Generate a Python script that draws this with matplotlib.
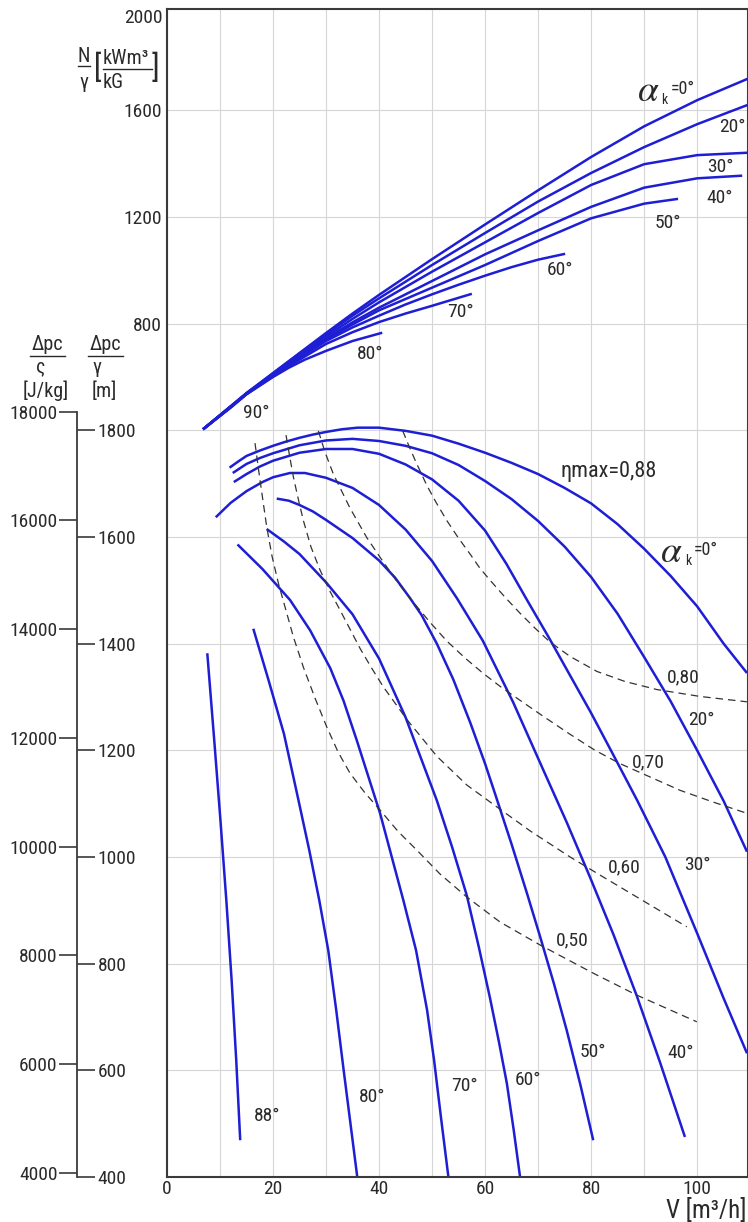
import matplotlib
matplotlib.use("Agg")
import matplotlib.pyplot as plt
from matplotlib.lines import Line2D

plt.rcParams["font.family"] = ["Liberation Sans Narrow", "Roboto Condensed",
                               "Liberation Sans", "DejaVu Sans"]

BLUE = "#1e1ed4"
INK = "#2a2a2a"
GRID = "#d6d6d6"
RHO_G = 9.81            # J/kg per metre of head

# ---------------------------------------------------------------------------
# Power curves N/gamma [kWm3/kG] (upper family), one per guide vane angle
# ---------------------------------------------------------------------------
n0_v = [6.8, 12, 15, 20, 25, 30, 35, 40, 50, 60, 70, 80, 90, 100, 109.5]
n0_n = [404, 490, 540, 615, 690, 765, 838, 908, 1042, 1172, 1300, 1425, 1540, 1638, 1718]
n20_v = [6.8, 12, 15, 20, 25, 30, 35, 40, 50, 60, 70, 80, 90, 100, 109.5]
n20_n = [404, 490, 539, 613, 688, 760, 830, 895, 1020, 1140, 1258, 1365, 1462, 1548, 1620]
n30_v = [6.8, 12, 15, 20, 25, 30, 35, 40, 50, 60, 70, 80, 90, 100, 109.5]
n30_n = [404, 489, 538, 610, 683, 752, 818, 880, 995, 1105, 1215, 1320, 1398, 1432, 1441]
n40_v = [6.8, 12, 15, 20, 25, 30, 35, 40, 50, 60, 70, 80, 90, 100, 108.5]
n40_n = [404, 488, 538, 608, 678, 745, 805, 860, 960, 1060, 1150, 1238, 1310, 1345, 1355]
n50_v = [6.8, 12, 15, 20, 25, 30, 35, 40, 50, 60, 70, 80, 90, 96.4]
n50_n = [404, 488, 537, 606, 675, 740, 797, 850, 935, 1020, 1110, 1195, 1250, 1268]
n60_v = [6.8, 12, 15, 20, 25, 30, 35, 40, 45, 50, 55, 60, 65, 70, 75.1]
n60_n = [404, 487, 537, 605, 672, 735, 786, 830, 872, 910, 946, 980, 1012, 1040, 1062]
n70_v = [6.8, 12, 15, 20, 25, 30, 35, 40, 45, 50, 57.5]
n70_n = [404, 486, 536, 603, 665, 724, 768, 806, 838, 867, 912]
n80_v = [6.8, 12, 15, 20, 23, 26, 30, 35, 40.6]
n80_n = [404, 485, 535, 600, 635, 665, 698, 735, 766]

# ---------------------------------------------------------------------------
# Head curves dp/gamma [m] (lower family)
# ---------------------------------------------------------------------------
h0_v = [11.8, 13.5, 15, 17.5, 20, 22.5, 25, 27.5, 30, 33, 36, 40, 45, 50, 55, 60, 65, 70,
        75, 80, 85, 90, 95, 100, 105, 109.4]
h0_h = [1730, 1742, 1752, 1762, 1771, 1779, 1786, 1792, 1797, 1802, 1805, 1805, 1799, 1790,
        1775, 1758, 1739, 1718, 1692, 1663, 1624, 1578, 1527, 1470, 1400, 1345]
h20_v = [12.4, 15, 17.5, 20, 25, 30, 35, 40, 45, 50, 55, 60, 65, 70, 75, 80, 85, 90, 95,
         100, 105, 109.4]
h20_h = [1720, 1737, 1748, 1757, 1772, 1781, 1784, 1780, 1771, 1757, 1735, 1705, 1671, 1630,
         1582, 1525, 1456, 1375, 1292, 1200, 1105, 1010]
h30_v = [12.6, 15, 17.5, 20, 25, 30, 35, 40, 45, 50, 55, 60, 64, 67.9, 72, 76, 80, 84, 88.7,
         94, 100, 105, 109.4]
h30_h = [1703, 1718, 1732, 1743, 1758, 1765, 1765, 1756, 1736, 1708, 1668, 1612, 1550, 1482,
         1412, 1341, 1270, 1195, 1106, 1000, 857, 735, 632]
h40_v = [9.2, 12, 15, 18, 20, 23.2, 26, 30, 35, 40, 45, 50, 54.7, 59.6, 65.3, 70.9, 75.4,
         79.8, 84.2, 88.6, 93, 97.7]
h40_h = [1637, 1664, 1686, 1703, 1712, 1720, 1720, 1711, 1692, 1660, 1614, 1555, 1485, 1405,
         1290, 1165, 1065, 962, 855, 740, 615, 475]
h50_v = [20.7, 23, 25, 27.5, 30, 35, 40, 43, 45.8, 48, 50.9, 54, 57.2, 60, 62, 65, 67.9, 70.4,
         73, 75.4, 78, 80.4]
h50_h = [1672, 1668, 1660, 1648, 1632, 1598, 1556, 1524, 1486, 1454, 1400, 1333, 1252, 1175,
         1115, 1024, 932, 850, 762, 675, 572, 469]
h60_v = [18.8, 22, 25, 30, 35, 40, 45, 50.9, 53.8, 56.55, 58.8, 60.94, 62.6, 64.1, 65.4, 66.6]
h60_h = [1615, 1592, 1568, 1515, 1455, 1372, 1262, 1106, 1018, 928, 832, 735, 654, 576, 488, 400]
h70_v = [13.3, 18, 23.2, 27, 30.8, 33.3, 35.79, 40.19, 44.58, 46.98, 49.06, 50.38, 51.7, 53.08]
h70_h = [1586, 1540, 1482, 1425, 1354, 1293, 1219, 1082, 919, 825, 713, 619, 510, 400]
h80_v = [16.28, 19.17, 22.06, 24.81, 26.83, 28.72, 30.42, 31.92, 33.25, 34.57, 35.89]
h80_h = [1428, 1331, 1231, 1106, 1013, 919, 825, 713, 606, 503, 400]
h88_v = [7.60, 8.91, 10.08, 11.19, 12.19, 13.06, 13.81]
h88_h = [1382, 1219, 1069, 919, 769, 619, 469]

# ---------------------------------------------------------------------------
# Iso-efficiency lines (dashed)
# ---------------------------------------------------------------------------
e50_v = [16.60, 17.55, 18.81, 19.81, 21.02, 23.83, 25.72, 27.92, 30.13, 32.26, 34.53, 37.36,
         40.19, 43.58, 47.11, 51.51, 56.55, 62.83, 70.38, 80.43, 88.62, 99.94]
e50_h = [1776, 1706, 1619, 1564, 1513, 1413, 1356, 1298, 1244, 1197, 1157, 1120,
         1088, 1048, 1013, 968, 925, 878, 835, 782, 741, 691]
e60_v = [22.45, 23.11, 23.83, 24.72, 25.72, 27.17, 28.87, 30.75, 32.64, 34.53, 36.42, 38.49,
         40.81, 45.23, 50.89, 56.55, 62.21, 68.49, 76.04, 81.70, 88.62, 98.06]
e60_h = [1791, 1753, 1713, 1673, 1631, 1581, 1538, 1498, 1463, 1427, 1391, 1356,
         1319, 1258, 1189, 1135, 1094, 1049, 1000, 966, 925, 869]
e70_v = [28.55, 29.81, 31.38, 34.53, 37.68, 40.19, 43.21, 46.42, 49.62, 52.77, 56.23, 59.68,
         62.83, 65.98, 70.94, 76.04, 80.75, 85.47, 91.13, 96.79, 103.02, 109.38]
e70_h = [1799, 1759, 1718, 1654, 1599, 1562, 1519, 1478, 1440, 1405, 1373, 1344,
         1320, 1298, 1264, 1230, 1200, 1175, 1150, 1125, 1103, 1082]
e80_v = [44.47, 45.66, 46.98, 49.0, 50.75, 52.77, 54.91, 57.17, 59.06, 60.94, 63.77, 66.6,
         69.43, 72.26, 76.04, 81.08, 86.42, 92.4, 100.57, 109.38]
e80_h = [1799, 1770, 1740, 1697, 1665, 1631, 1599, 1568, 1541, 1519, 1487, 1457,
         1429, 1403, 1376, 1348, 1329, 1314, 1301, 1291]

x_ticks = [0, 20, 40, 60, 80, 100]
n_ticks = [800, 1200, 1600]
m_ticks = [400, 600, 800, 1000, 1200, 1400, 1600, 1800]
j_ticks = [4000, 6000, 8000, 10000, 12000, 14000, 16000, 18000]

H_MIN, H_MAX = 400, 2590
V_MAX = 109.5
TICK_FS = 14
LABEL_FS = 14


def to_n(h):
    """Head value on the lower scale -> matching N/gamma value on the upper scale."""
    return 2 * h - 3200


# ---------------------------------------------------------------------------
# Figure and axes
# ---------------------------------------------------------------------------
W, H = 748, 1222
fig = plt.figure(figsize=(W / 100, H / 100), dpi=100)
ax = fig.add_axes([167 / W, 45 / H, 580.5 / W, 1168 / H])
ax.set_xlim(0, V_MAX)
ax.set_ylim(H_MIN, H_MAX)

ax.set_xticks(range(0, 110, 10))
ax.set_xticklabels([str(v) if v in x_ticks else "" for v in range(0, 110, 10)])
ax.set_yticks(range(600, 2590, 200))
ax.set_yticklabels([])
ax.tick_params(axis="both", length=0, labelsize=TICK_FS, colors=INK, pad=2)
ax.grid(True, color=GRID, lw=0.8)
for sp in ax.spines.values():
    sp.set_color("#3a3a3a")
    sp.set_linewidth(1.5)

# upper scale N/gamma
ax_n = ax.twinx()
ax_n.set_ylim(to_n(H_MIN), to_n(H_MAX))
ax_n.yaxis.tick_left()
ax_n.set_yticks(n_ticks)
ax_n.tick_params(axis="y", length=0, labelsize=TICK_FS, colors=INK, pad=4)
for sp in ax_n.spines.values():
    sp.set_visible(False)
ax.text(-0.007, 0.992, "2000", transform=ax.transAxes, ha="right", va="center",
        fontsize=TICK_FS, color=INK)

# outer scales: head in m (right side of spine) and J/kg (left side)
spine_pos = (77 - 167) / 580.5
ax_m = ax.twinx()
ax_m.set_ylim(H_MIN, H_MAX)
ax_m.set_yticks(m_ticks)
for name, sp in ax_m.spines.items():
    sp.set_visible(name == "right")
ax_m.spines["right"].set_position(("axes", spine_pos))
ax_m.spines["right"].set_bounds(H_MIN, j_ticks[-1] / RHO_G)
ax_m.spines["right"].set_color("#3a3a3a")
ax_m.spines["right"].set_linewidth(1.3)
ax_m.tick_params(axis="y", direction="out", length=13, width=1.2, color="#3a3a3a",
                 labelsize=TICK_FS, labelcolor=INK, pad=2)

ax_j = ax.twinx()
ax_j.set_ylim(H_MIN * RHO_G, H_MAX * RHO_G)
ax_j.yaxis.tick_left()
ax_j.set_yticks(j_ticks)
for sp in ax_j.spines.values():
    sp.set_visible(False)
ax_j.spines["left"].set_position(("axes", spine_pos))
ax_j.tick_params(axis="y", direction="out", length=13, width=1.2, color="#3a3a3a",
                 labelsize=TICK_FS, labelcolor=INK, pad=1)

# ---------------------------------------------------------------------------
# Curves
# ---------------------------------------------------------------------------
lw = 1.8
for v, n in [(n0_v, n0_n), (n20_v, n20_n), (n30_v, n30_n), (n40_v, n40_n),
             (n50_v, n50_n), (n60_v, n60_n), (n70_v, n70_n), (n80_v, n80_n)]:
    ax_n.plot(v, n, color=BLUE, lw=lw, solid_capstyle="butt", solid_joinstyle="round")

for v, h in [(h0_v, h0_h), (h20_v, h20_h), (h30_v, h30_h), (h40_v, h40_h),
             (h50_v, h50_h), (h60_v, h60_h), (h70_v, h70_h), (h80_v, h80_h),
             (h88_v, h88_h)]:
    ax.plot(v, h, color=BLUE, lw=lw, solid_capstyle="butt", solid_joinstyle="round")

for v, h in [(e50_v, e50_h), (e60_v, e60_h), (e70_v, e70_h), (e80_v, e80_h)]:
    ax.plot(v, h, color="#333333", lw=0.9, ls=(0, (6, 4)))

# ---------------------------------------------------------------------------
# Curve labels
# ---------------------------------------------------------------------------
lab = dict(fontsize=LABEL_FS, color=INK, ha="center", va="center")
for txt, v, n in [("90°", 16.8, 465), ("80°", 38.3, 686), ("70°", 55.3, 844),
                  ("60°", 74.2, 1002), ("50°", 94.5, 1177), ("40°", 104.3, 1271),
                  ("30°", 104.3, 1387), ("20°", 106.6, 1537)]:
    ax_n.text(v, n, txt, **lab)

for txt, v, h in [("0,80", 97.4, 1336), ("20°", 100.8, 1257), ("0,70", 90.8, 1178),
                  ("30°", 100.0, 985), ("0,60", 86.2, 981), ("0,50", 76.4, 844),
                  ("40°", 96.8, 632), ("50°", 80.4, 634), ("60°", 68.1, 582),
                  ("70°", 56.2, 571), ("80°", 38.7, 550), ("88°", 18.9, 514)]:
    ax.text(v, h, txt, **lab)

ax.text(83.4, 1722, "ηmax=0,88", fontsize=16, color=INK, ha="center", va="center")


def alpha_label(axis, v, y):
    axis.text(v, y, r"$\alpha$", fontsize=27, color=INK, ha="center", va="center",
              math_fontfamily="stix")
    axis.annotate("k", (v, y), xytext=(12, -7), textcoords="offset points",
                  fontsize=10, color=INK, ha="center", va="center")
    axis.annotate("=0°", (v, y), xytext=(25, 1), textcoords="offset points",
                  fontsize=13, color=INK, ha="center", va="center")


alpha_label(ax_n, 90.7, to_n(2589 - (90 - 9) * 1.875))
alpha_label(ax, 95.1, 2589 - (551 - 9) * 1.875)

# ---------------------------------------------------------------------------
# Axis titles (figure coordinates)
# ---------------------------------------------------------------------------
def ftext(x, y, s, **kw):
    kw.setdefault("fontsize", 14.5)
    kw.setdefault("color", INK)
    kw.setdefault("ha", "center")
    kw.setdefault("va", "center")
    fig.text(x / W, 1 - y / H, s, **kw)


def fbar(x0, x1, y):
    fig.add_artist(Line2D([x0 / W, x1 / W], [1 - y / H, 1 - y / H],
                          transform=fig.transFigure, color=INK, lw=1.0))


ftext(84, 57, "N")
fbar(78, 90, 66)
ftext(84, 82, "γ")
ftext(98, 68, "[", fontsize=22)
ftext(103, 58, "kWm³", ha="left")
fbar(103, 152, 69)
ftext(103, 82, "kG", ha="left")
ftext(155, 68, "]", fontsize=22)

ftext(47, 345, "Δpc")
fbar(30, 65, 356)
ftext(41, 367, "ς")
ftext(46, 391, "[J/kg]")

ftext(105, 345, "Δpc")
fbar(88, 123, 356)
ftext(97, 368, "γ")
ftext(104, 391, "[m]")

ftext(747, 1211, "V [m³/h]", fontsize=18, ha="right")

fig.savefig("out.png", dpi=100)
